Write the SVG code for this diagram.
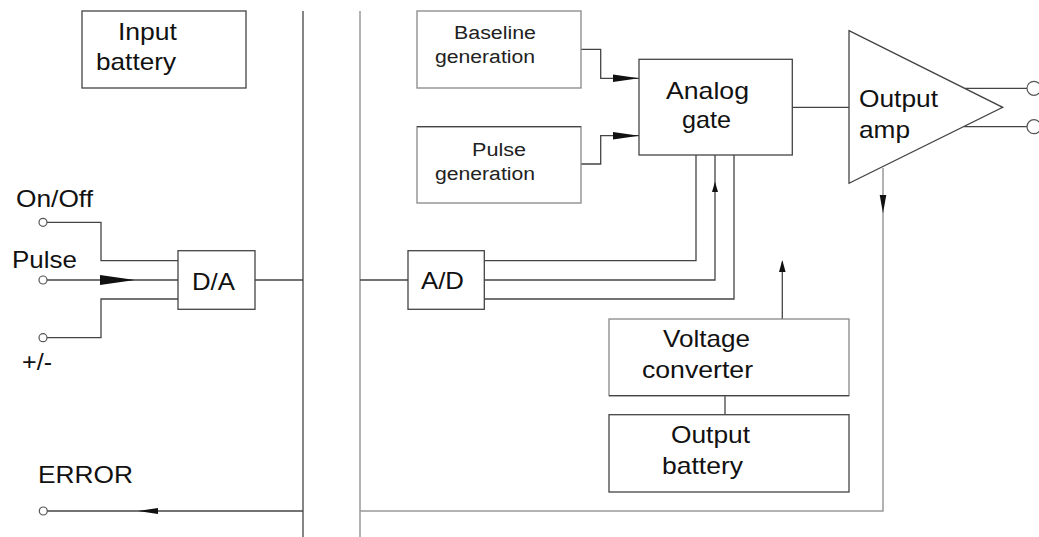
<svg xmlns="http://www.w3.org/2000/svg" width="1039" height="537" viewBox="0 0 1039 537">
<style>
  .box{fill:#fff;stroke:#444;stroke-width:1.3}
  .gbox{fill:#fff;stroke:#888;stroke-width:1.3}
  .ln{fill:none;stroke:#444;stroke-width:1.3}
  .lg{fill:none;stroke:#999;stroke-width:1.5}
  .ah{fill:#111;stroke:none}
  .term{fill:#fff;stroke:#555;stroke-width:1.2}
  .t{font-family:"Liberation Sans",Arial,sans-serif;font-size:24px;fill:#111}
  .s{font-family:"Liberation Sans",Arial,sans-serif;font-size:18px;fill:#222}
</style>
<rect width="1039" height="537" fill="#fff"/>

<g id="connectors">
  <!-- isolation barrier lines -->
  <line class="ln" x1="303" y1="11" x2="303" y2="537"/>
  <line class="lg" x1="360" y1="11" x2="360" y2="537"/>
  <!-- inputs to D/A -->
  <path class="ln" d="M47,222.3 H101 V260.7 H178"/>
  <path class="ln" d="M47,280 H178"/>
  <polygon class="ah" points="100,275 135,280 100,285"/>
  <path class="ln" d="M47,337.7 H101 V299 H178"/>
  <!-- D/A to barrier, barrier to A/D -->
  <line class="ln" x1="255" y1="280" x2="303" y2="280"/>
  <line class="ln" x1="360" y1="280" x2="408" y2="280"/>
  <!-- A/D to analog gate -->
  <path class="ln" d="M484,260.7 H696 V155"/>
  <path class="ln" d="M484,280 H715 V155"/>
  <polygon class="ah" points="712,192 715,181.7 718,192"/>
  <path class="ln" d="M484,299 H734 V155"/>
  <!-- generators to analog gate -->
  <path class="ln" d="M581,49.3 H600.7 V78.3 H639"/>
  <polygon class="ah" points="613,74.5 639,78.3 613,82"/>
  <path class="ln" d="M581,164 H600.7 V135.7 H639"/>
  <polygon class="ah" points="613,132 639,135.7 613,139.5"/>
  <!-- analog gate to output amp -->
  <line class="ln" x1="792" y1="107.3" x2="849" y2="107.3"/>
  <!-- outputs -->
  <line class="ln" x1="965" y1="88.3" x2="1027" y2="88.3"/>
  <line class="ln" x1="964" y1="126.7" x2="1027" y2="126.7"/>
  <!-- voltage converter up arrow -->
  <line class="ln" x1="782.3" y1="262" x2="782.3" y2="319"/>
  <polygon class="ah" points="779,272 782.3,260 785.6,272"/>
  <!-- voltage converter to output battery -->
  <line class="ln" x1="725" y1="396" x2="725" y2="415"/>
  <!-- output amp error feedback -->
  <path class="lg" d="M883,168 V511 H360"/>
  <polygon class="ah" points="879.7,195 883,213.3 886.3,195"/>
  <line class="ln" x1="47" y1="511" x2="303" y2="511"/>
  <polygon class="ah" points="138,511 158,508 158,514"/>
</g>

<g id="input-battery">
  <rect class="box" x="82" y="11" width="164" height="77"/>
  <text class="t" x="118" y="40" textLength="59" lengthAdjust="spacingAndGlyphs">Input</text>
  <text class="t" x="96" y="70" textLength="80" lengthAdjust="spacingAndGlyphs">battery</text>
</g>

<g id="terminal-onoff">
  <circle class="term" cx="43" cy="222.3" r="4"/>
  <text class="t" x="16" y="207" textLength="77" lengthAdjust="spacingAndGlyphs">On/Off</text>
</g>
<g id="terminal-pulse">
  <circle class="term" cx="43" cy="280" r="4"/>
  <text class="t" x="12" y="268" textLength="65" lengthAdjust="spacingAndGlyphs">Pulse</text>
</g>
<g id="terminal-pm">
  <circle class="term" cx="43" cy="337.7" r="4"/>
  <text class="t" x="22" y="370" textLength="30" lengthAdjust="spacingAndGlyphs">+/-</text>
</g>
<g id="terminal-error">
  <circle class="term" cx="43.3" cy="511" r="4"/>
  <text class="t" x="38" y="482.7" textLength="95" lengthAdjust="spacingAndGlyphs">ERROR</text>
</g>

<g id="da">
  <rect class="box" x="178" y="250.7" width="77" height="58.6"/>
  <text class="t" x="192" y="290" textLength="43" lengthAdjust="spacingAndGlyphs">D/A</text>
</g>

<g id="ad">
  <rect class="box" x="408" y="250.7" width="76.3" height="58.6"/>
  <text class="t" x="421" y="289" textLength="43" lengthAdjust="spacingAndGlyphs">A/D</text>
</g>

<g id="baseline-generation">
  <rect class="gbox" x="417" y="11" width="164" height="77"/>
  <text class="s" x="454" y="39" textLength="82" lengthAdjust="spacingAndGlyphs">Baseline</text>
  <text class="s" x="435" y="63" textLength="100" lengthAdjust="spacingAndGlyphs">generation</text>
</g>

<g id="pulse-generation">
  <rect class="gbox" x="417" y="126.7" width="164" height="76.3"/>
  <line class="ln" x1="417" y1="126.7" x2="581" y2="126.7"/>
  <text class="s" x="472" y="155.7" textLength="54" lengthAdjust="spacingAndGlyphs">Pulse</text>
  <text class="s" x="435" y="180" textLength="100" lengthAdjust="spacingAndGlyphs">generation</text>
</g>

<g id="analog-gate">
  <rect class="box" x="639" y="59.3" width="153.3" height="95.7"/>
  <text class="t" x="666" y="99" textLength="83" lengthAdjust="spacingAndGlyphs">Analog</text>
  <text class="t" x="682" y="128.3" textLength="49" lengthAdjust="spacingAndGlyphs">gate</text>
</g>

<g id="output-amp">
  <polygon class="box" points="849,30.7 1002.7,107.3 849,183.3"/>
  <text class="t" x="859" y="106.7" textLength="79" lengthAdjust="spacingAndGlyphs">Output</text>
  <text class="t" x="859" y="137.7" textLength="51" lengthAdjust="spacingAndGlyphs">amp</text>
</g>

<g id="output-terminals">
  <circle class="term" cx="1034" cy="88.3" r="7"/>
  <circle class="term" cx="1034" cy="126.7" r="7"/>
</g>

<g id="voltage-converter">
  <rect class="gbox" x="609" y="319" width="240" height="76.7"/>
  <line class="ln" x1="609" y1="395.7" x2="849" y2="395.7"/>
  <text class="t" x="663" y="346.7" textLength="87" lengthAdjust="spacingAndGlyphs">Voltage</text>
  <text class="t" x="642" y="378.3" textLength="111" lengthAdjust="spacingAndGlyphs">converter</text>
</g>

<g id="output-battery">
  <rect class="box" x="609" y="414.7" width="240" height="77.3"/>
  <text class="t" x="671" y="443.3" textLength="79" lengthAdjust="spacingAndGlyphs">Output</text>
  <text class="t" x="662" y="474" textLength="81" lengthAdjust="spacingAndGlyphs">battery</text>
</g>
</svg>
